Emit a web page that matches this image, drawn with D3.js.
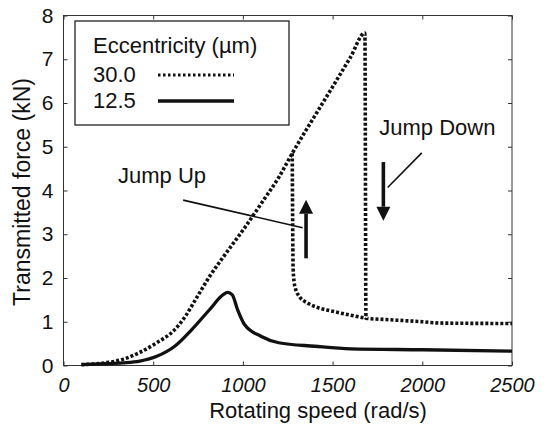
<!DOCTYPE html>
<html>
<head>
<meta charset="utf-8">
<script src="https://cdn.jsdelivr.net/npm/d3@7"></script>
<style>
  body { margin: 0; background: #fff; }
  svg { display: block; font-family: "Liberation Sans", Arial, sans-serif; }
  .tick line { stroke: #333; }
</style>
</head>
<body>
<svg id="chart" width="548" height="432"></svg>
<script>
// eccentricity 12.5 um, solid
const speed12 = [100, 230, 330, 425, 520, 620, 715, 815, 890, 915, 940, 970, 1010, 1100, 1200, 1400, 1600, 2000, 2500];
const force12 = [0.02, 0.04, 0.06, 0.1, 0.21, 0.44, 0.82, 1.28, 1.62, 1.67, 1.62, 1.28, 0.93, 0.67, 0.52, 0.44, 0.38, 0.36, 0.33];

// eccentricity 30.0 um, dotted, run-up branch (jumps down at ~1685)
const speed30 = [100, 230, 330, 425, 520, 620, 680, 735, 815, 912, 1010, 1110, 1200, 1275, 1400, 1500, 1600, 1680, 1686, 1800, 2000, 2100, 2500];
const force30 = [0.02, 0.06, 0.14, 0.3, 0.52, 0.82, 1.13, 1.5, 2.04, 2.6, 3.15, 3.75, 4.3, 4.85, 5.7, 6.37, 7.05, 7.6, 1.08, 1.05, 1.0, 0.97, 0.96];

// eccentricity 30.0 um, run-down branch (jumps up at ~1280)
const speed30b = [1275, 1277, 1280, 1290, 1318, 1360, 1420, 1500, 1600, 1686];
const force30b = [4.85, 3.5, 2.2, 1.8, 1.56, 1.43, 1.32, 1.24, 1.15, 1.08];

const xTicks = [0, 500, 1000, 1500, 2000, 2500];
const yTicks = [0, 1, 2, 3, 4, 5, 6, 7, 8];

const legendTitle = 'Eccentricity (\u00b5m)';
const legendLabels = ['30.0', '12.5'];

const W = 548, H = 432;
const plotL = 63.5, plotR = 512, plotT = 15.5, plotB = 365.5;

const svg = d3.select('#chart');
svg.append('rect').attr('width', W).attr('height', H).attr('fill', '#fff');

const x = d3.scaleLinear().domain([0, 2500]).range([plotL, plotR]);
const y = d3.scaleLinear().domain([0, 8]).range([plotB, plotT]);

// axes, ticks pointing inward
const gx = svg.append('g').attr('transform', `translate(0,${plotB})`)
	.call(d3.axisBottom(x).tickValues(xTicks).tickFormat(d3.format('d'))
		.tickSizeInner(-4).tickSizeOuter(0).tickPadding(12));
gx.selectAll('text').attr('font-size', 20).attr('font-style', 'italic').attr('fill', '#111');

const gy = svg.append('g').attr('transform', `translate(${plotL},0)`)
	.call(d3.axisLeft(y).tickValues(yTicks).tickSizeInner(-4).tickSizeOuter(0).tickPadding(10));
gy.selectAll('text').attr('font-size', 21).attr('fill', '#111');

svg.append('g').attr('transform', `translate(0,${plotT})`)
	.call(d3.axisTop(x).tickValues(xTicks).tickSizeInner(-4).tickSizeOuter(0).tickFormat(''));
svg.append('g').attr('transform', `translate(${plotR},0)`)
	.call(d3.axisRight(y).tickValues(yTicks).tickSizeInner(-4).tickSizeOuter(0).tickFormat(''));

svg.selectAll('.domain').remove();

svg.append('rect')
	.attr('x', plotL).attr('y', plotT)
	.attr('width', plotR - plotL).attr('height', plotB - plotT)
	.attr('fill', 'none').attr('stroke', '#333').attr('stroke-width', 1);

// axis titles
svg.append('text')
	.attr('x', 318).attr('y', 418)
	.attr('text-anchor', 'middle').attr('font-size', 22).attr('fill', '#111')
	.text('Rotating speed (rad/s)');

svg.append('text')
	.attr('transform', 'translate(30,192) rotate(-90)')
	.attr('text-anchor', 'middle').attr('font-size', 23).attr('fill', '#111')
	.text('Transmitted force (kN)');

// curves
const line = d3.line().x(d => x(d[0])).y(d => y(d[1])).curve(d3.curveMonotoneX);

const dotted = { stroke: '#111', width: 3.6, dash: '3,2' };
const solid = { stroke: '#111', width: 3.3, dash: null };

function drawCurve(xs, ys, style) {
	svg.append('path')
		.datum(d3.zip(xs, ys))
		.attr('d', line)
		.attr('fill', 'none')
		.attr('stroke', style.stroke)
		.attr('stroke-width', style.width)
		.attr('stroke-dasharray', style.dash)
		.attr('stroke-linejoin', 'round');
}

drawCurve(speed30, force30, dotted);
drawCurve(speed30b, force30b, dotted);
drawCurve(speed12, force12, solid);

// annotations
function leader(x0, y0, x1, y1) {
	svg.append('line')
		.attr('x1', x(x0)).attr('y1', y(y0))
		.attr('x2', x(x1)).attr('y2', y(y1))
		.attr('stroke', '#111').attr('stroke-width', 1.6);
}

function arrow(xv, from, to) {
	const px = x(xv), y0 = y(from), y1 = y(to);
	const dir = y1 < y0 ? -1 : 1;
	const headLen = 14, headW = 7;
	svg.append('line')
		.attr('x1', px).attr('y1', y0)
		.attr('x2', px).attr('y2', y1 - dir * headLen)
		.attr('stroke', '#111').attr('stroke-width', 3.6);
	svg.append('path')
		.attr('d', `M${px},${y1}L${px - headW},${y1 - dir * headLen}L${px + headW},${y1 - dir * headLen}Z`)
		.attr('fill', '#111');
}

svg.append('text')
	.attr('x', x(304)).attr('y', y(4.17))
	.attr('font-size', 22).attr('fill', '#111')
	.text('Jump Up');
leader(667, 3.78, 1333, 3.15);
arrow(1352, 2.45, 3.79);

svg.append('text')
	.attr('x', x(1760)).attr('y', y(5.26))
	.attr('font-size', 22).attr('fill', '#111')
	.text('Jump Down');
leader(1997, 4.86, 1807, 4.07);
arrow(1783, 4.65, 3.31);

// legend
const lg = svg.append('g');
lg.append('rect')
	.attr('x', 75).attr('y', 21).attr('width', 214).attr('height', 104)
	.attr('fill', '#fff').attr('stroke', '#222').attr('stroke-width', 1.3);
lg.append('text').attr('x', 93).attr('y', 53).attr('font-size', 22).attr('fill', '#111').text(legendTitle);

const legendStyles = [dotted, solid];
const legendY = [82, 108];
legendLabels.forEach((lab, i) => {
	lg.append('text').attr('x', 93).attr('y', legendY[i]).attr('font-size', 22).attr('fill', '#111').text(lab);
	lg.append('line')
		.attr('x1', 158).attr('x2', 234)
		.attr('y1', legendY[i] - 7).attr('y2', legendY[i] - 7)
		.attr('stroke', legendStyles[i].stroke)
		.attr('stroke-width', i === 0 ? 2.8 : 3.3)
		.attr('stroke-dasharray', i === 0 ? '2.5,2.5' : null);
});
</script>
</body>
</html>
